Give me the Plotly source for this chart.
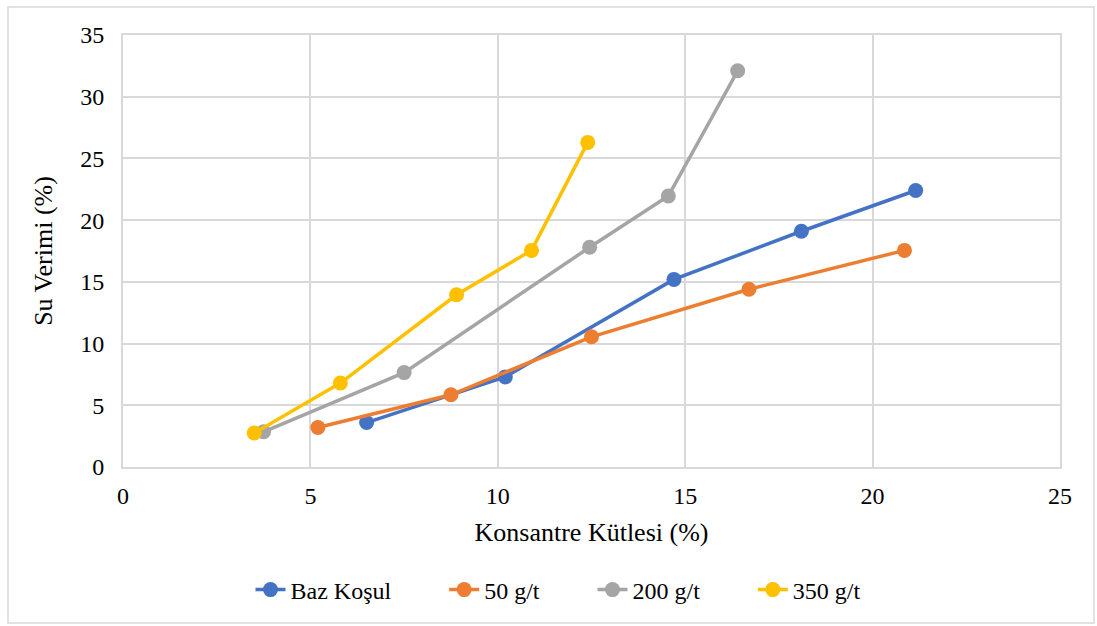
import plotly.graph_objects as go

series_names = ["Baz Koşul", "50 g/t", "200 g/t", "350 g/t"]
colors = ["#4472C4", "#ED7D31", "#A5A5A5", "#FFC000"]

baz_x = [6.5, 10.2, 14.7, 18.1, 21.15]
baz_y = [3.6, 7.3, 15.2, 19.1, 22.4]
g50_x = [5.2, 8.75, 12.5, 16.7, 20.85]
g50_y = [3.2, 5.85, 10.55, 14.4, 17.55]
g200_x = [3.75, 7.5, 12.45, 14.55, 16.4]
g200_y = [2.85, 7.65, 17.8, 21.95, 32.1]
g350_x = [3.5, 5.8, 8.9, 10.9, 12.4]
g350_y = [2.75, 6.8, 13.95, 17.55, 26.3]

xs = [baz_x, g50_x, g200_x, g350_x]
ys = [baz_y, g50_y, g200_y, g350_y]

FONT = "Times New Roman"
PAD = "\u00a0" * 8

fig = go.Figure()
for name, c, x, y in zip(series_names, colors, xs, ys):
    fig.add_trace(go.Scatter(x=x, y=y, name=name + PAD,
                             mode="lines+markers",
                             line=dict(color=c, width=3.5),
                             marker=dict(color=c, size=15)))

L, R, T, B = 123, 1060, 35, 467
W, H = 1097, 626
pw, ph = R - L, B - T

fig.update_layout(
    width=W, height=H,
    margin=dict(l=L, r=W - R, t=T, b=H - B),
    paper_bgcolor="white", plot_bgcolor="white",
    font=dict(family=FONT, size=24, color="black"),
    showlegend=True,
    legend=dict(orientation="h", x=(582 - L) / pw, xanchor="center",
                y=(B - 590) / ph, yanchor="middle",
                font=dict(family=FONT, size=24, color="black"), itemwidth=30),
    xaxis=dict(range=[0, 25], dtick=5, showgrid=True, gridcolor="#D9D9D9",
               gridwidth=2, zeroline=False, showline=True, linecolor="#D9D9D9",
               linewidth=2, mirror=True, ticks="", ticklabelstandoff=6,
               title=dict(text="Konsantre Kütlesi (%)", font=dict(family=FONT, size=26),
                          standoff=15),
               tickfont=dict(family=FONT, size=24, color="black")),
    yaxis=dict(range=[0, 35], dtick=5, showgrid=True, gridcolor="#D9D9D9",
               gridwidth=2, zeroline=False, showline=True, linecolor="#D9D9D9",
               linewidth=2, mirror=True, ticks="", ticklabelstandoff=12,
               title=dict(text="Su Verimi (%)", font=dict(family=FONT, size=26),
                          standoff=20),
               tickfont=dict(family=FONT, size=24, color="black")),
    shapes=[dict(type="rect", xref="paper", yref="paper",
                 x0=(8 - L) / pw, x1=(1094 - L) / pw,
                 y0=(B - 623) / ph, y1=(B - 7) / ph,
                 line=dict(color="#D9D9D9", width=1.5), layer="below")],
)

fig.write_html("out.html")
